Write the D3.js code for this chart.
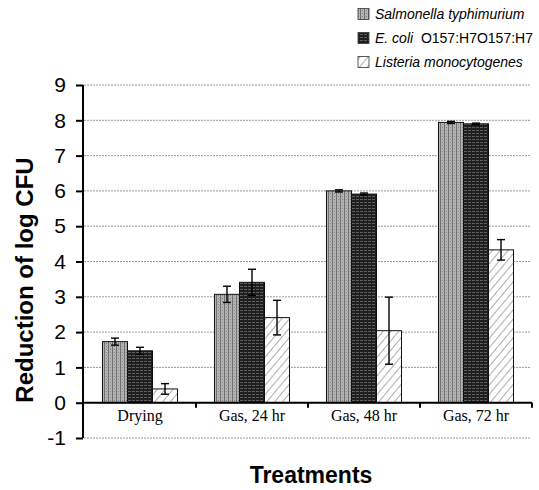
<!DOCTYPE html>
<html>
<head>
<meta charset="utf-8">
<script src="https://cdn.jsdelivr.net/npm/d3@7"></script>
<style>
  html, body { margin: 0; padding: 0; background: #fff; }
  svg { display: block; }
</style>
</head>
<body>
<svg id="chart" width="539" height="490"></svg>
<script>
// Treatments and the three pathogens
const categories = ["Drying", "Gas, 24 hr", "Gas, 48 hr", "Gas, 72 hr"];
const seriesNames = ["Salmonella typhimurium", "E. coli O157:H7O157:H7", "Listeria monocytogenes"];

// Mean reduction of log CFU for each treatment
const salmonella = [1.73, 3.07, 6.00, 7.94];
const ecoli      = [1.47, 3.41, 5.91, 7.90];
const listeria   = [0.39, 2.41, 2.04, 4.33];

// Standard deviations (error bars)
const salmonellaErr = [0.10, 0.23, 0.03, 0.03];
const ecoliErr      = [0.10, 0.37, 0.03, 0.02];
const listeriaErr   = [0.15, 0.49, 0.95, 0.29];

const yTicks = [-1, 0, 1, 2, 3, 4, 5, 6, 7, 8, 9];

const series = [
  { name: seriesNames[0], values: salmonella, errs: salmonellaErr, fill: "url(#patSal)" },
  { name: seriesNames[1], values: ecoli, errs: ecoliErr, fill: "url(#patEco)" },
  { name: seriesNames[2], values: listeria, errs: listeriaErr, fill: "url(#patLis)" }
];

const svg = d3.select("#chart");
const plotLeft = 83, plotRight = 532, plotTop = 85, plotBottom = 438;

const y = d3.scaleLinear().domain([-1, 9]).range([plotBottom, plotTop]);
const x0 = d3.scaleBand().domain(categories).range([plotLeft + 1, plotRight]).padding(0);
const groupW = x0.bandwidth() * 0.67;
const x1 = d3.scaleBand().domain(d3.range(series.length))
  .range([(x0.bandwidth() - groupW) / 2, (x0.bandwidth() + groupW) / 2]).padding(0);

// Fill patterns
const defs = svg.append("defs");
const pSal = defs.append("pattern").attr("id", "patSal").attr("patternUnits", "userSpaceOnUse")
  .attr("width", 4).attr("height", 3);
pSal.append("rect").attr("width", 4).attr("height", 3).attr("fill", "#b4b4b4");
pSal.append("rect").attr("x", 0).attr("width", 1).attr("height", 3).attr("fill", "#707070");
pSal.append("rect").attr("x", 2).attr("y", 1).attr("width", 1).attr("height", 1).attr("fill", "#858585");

const pEco = defs.append("pattern").attr("id", "patEco").attr("patternUnits", "userSpaceOnUse")
  .attr("width", 4).attr("height", 3);
pEco.append("rect").attr("width", 4).attr("height", 3).attr("fill", "#1e1e1e");
pEco.append("rect").attr("y", 1).attr("width", 3).attr("height", 1).attr("fill", "#5e5e5e");

const pLis = defs.append("pattern").attr("id", "patLis").attr("patternUnits", "userSpaceOnUse")
  .attr("width", 6).attr("height", 6).attr("patternTransform", "rotate(40)");
pLis.append("rect").attr("width", 6).attr("height", 6).attr("fill", "#fff");
pLis.append("line").attr("x1", 0).attr("y1", 0).attr("x2", 0).attr("y2", 6)
  .attr("stroke", "#8a8a8a").attr("stroke-width", 1.4);

// Dotted gridlines
svg.append("g").selectAll("line").data(yTicks.filter(t => t !== 0)).join("line")
  .attr("x1", plotLeft + 1).attr("x2", plotRight - 2)
  .attr("y1", d => y(d)).attr("y2", d => y(d))
  .attr("stroke", "#9a9a9a").attr("stroke-width", 1).attr("stroke-dasharray", "2,1");

// Bars
const groups = svg.append("g").selectAll("g").data(categories).join("g")
  .attr("transform", d => `translate(${x0(d)},0)`);

groups.each(function(cat, ci) {
  const g = d3.select(this);
  series.forEach((s, si) => {
    const v = s.values[ci];
    g.append("rect")
      .attr("x", x1(si)).attr("width", x1.bandwidth())
      .attr("y", y(Math.max(0, v))).attr("height", Math.abs(y(v) - y(0)))
      .attr("fill", s.fill).attr("stroke", "#111").attr("stroke-width", 1);
  });
  series.forEach((s, si) => {
    const v = s.values[ci], e = s.errs[ci];
    const cx = x1(si) + x1.bandwidth() / 2;
    const eg = g.append("g").attr("stroke", "#000").attr("stroke-width", 1.4);
    eg.append("line").attr("x1", cx).attr("x2", cx).attr("y1", y(v + e)).attr("y2", y(v - e));
    eg.append("line").attr("x1", cx - 4).attr("x2", cx + 4).attr("y1", y(v + e)).attr("y2", y(v + e));
    eg.append("line").attr("x1", cx - 4).attr("x2", cx + 4).attr("y1", y(v - e)).attr("y2", y(v - e));
  });
});

// Y axis
const yAxis = svg.append("g").attr("transform", `translate(${plotLeft},0)`)
  .call(d3.axisLeft(y).tickValues(yTicks).tickSize(7).tickPadding(10).tickFormat(d => String(d)));
yAxis.select(".domain").attr("stroke", "#000").attr("stroke-width", 2)
  .attr("d", `M0,${y(-1)}V${y(9)}`);
yAxis.selectAll(".tick line").attr("stroke", "#000").attr("stroke-width", 2);
yAxis.selectAll(".tick text").attr("font-family", "Liberation Sans, Arial, sans-serif")
  .attr("font-size", 21).attr("fill", "#000");

// Category axis along zero
const xAxis = svg.append("g").attr("transform", `translate(0,${y(0)})`);
xAxis.append("line").attr("x1", plotLeft).attr("x2", plotRight)
  .attr("stroke", "#000").attr("stroke-width", 2);
xAxis.selectAll("line.tk").data(categories).join("line").attr("class", "tk")
  .attr("x1", d => x0(d) + x0.bandwidth()).attr("x2", d => x0(d) + x0.bandwidth())
  .attr("y1", 0).attr("y2", 5).attr("stroke", "#000").attr("stroke-width", 2);
xAxis.selectAll("text").data(categories).join("text")
  .attr("x", d => x0(d) + x0.bandwidth() / 2).attr("y", 18)
  .attr("text-anchor", "middle")
  .attr("font-family", "Liberation Serif, Times New Roman, serif")
  .attr("font-size", 16).attr("fill", "#000")
  .text(d => d);

// Axis titles
svg.append("text")
  .attr("transform", `translate(33,${(158 + 402) / 2}) rotate(-90)`)
  .attr("text-anchor", "middle")
  .attr("font-family", "Liberation Sans, Arial, sans-serif")
  .attr("font-weight", "bold").attr("font-size", 24).attr("fill", "#000")
  .text("Reduction of log CFU");

svg.append("text")
  .attr("x", 311).attr("y", 483)
  .attr("text-anchor", "middle")
  .attr("font-family", "Liberation Sans, Arial, sans-serif")
  .attr("font-weight", "bold").attr("font-size", 23).attr("fill", "#000")
  .text("Treatments");

// Legend
const legend = svg.append("g").attr("font-family", "Liberation Sans, Arial, sans-serif")
  .attr("font-size", 14).attr("fill", "#000");
const legendRows = [
  [{ t: "Salmonella typhimurium", i: true }],
  [{ t: "E. coli", i: true }, { t: "  O157:H7O157:H7", i: false }],
  [{ t: "Listeria monocytogenes", i: true }]
];
series.forEach((s, i) => {
  const cy = 14 + i * 24;
  legend.append("rect").attr("x", 358).attr("y", cy - 5.5).attr("width", 11).attr("height", 11)
    .attr("fill", s.fill).attr("stroke", "#333").attr("stroke-width", 0.8);
  const txt = legend.append("text").attr("x", 375).attr("y", cy + 5).attr("xml:space", "preserve");
  legendRows[i].forEach(p => {
    txt.append("tspan").attr("font-style", p.i ? "italic" : "normal").text(p.t);
  });
});
</script>
</body>
</html>
